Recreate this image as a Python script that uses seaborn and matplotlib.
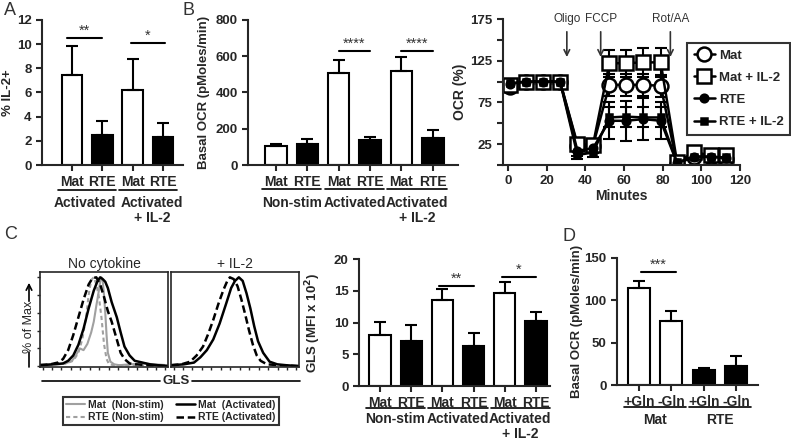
import numpy as np
import pandas as pd
import matplotlib
matplotlib.use("Agg")
import matplotlib.pyplot as plt
import matplotlib.transforms as mtransforms
from matplotlib.lines import Line2D
import seaborn as sns

# ---- A: % IL-2+ ----
a_cells = ["Mat", "RTE", "Mat", "RTE"]
a_groups = ["Activated", "Activated", "Activated\n+ IL-2", "Activated\n+ IL-2"]
a_mean = [7.45, 2.45, 6.2, 2.35]
a_err = [2.4, 1.2, 2.55, 1.15]

# ---- B: basal OCR ----
b_cells = ["Mat", "RTE", "Mat", "RTE", "Mat", "RTE"]
b_groups = ["Non-stim", "Non-stim", "Activated", "Activated", "Activated\n+ IL-2", "Activated\n+ IL-2"]
b_mean = [106, 116, 509, 138, 519, 147]
b_err = [10, 27, 70, 16, 75, 46]

# ---- B: OCR time course ----
minutes = [1, 9.5, 18, 27, 36, 44, 52.5, 61, 70, 79, 87.5, 96, 105, 113]
ocr_mat = [94, 100, 100, 100, 23, 23, 96, 96, 96, 95, 1, 10, 9, 7]
ocr_mat_il2 = [96, 100, 100, 100, 25, 24, 122, 122, 123, 123, 3, 15, 12, 12]
ocr_rte = [97, 100, 100, 100, 17, 20, 53, 53, 55, 53, 2, 10, 10, 8]
ocr_rte_il2 = [98, 100, 100, 100, 12, 15, 57, 58, 57, 57, 3, 10, 10, 9]
err_mat = [0, 0, 0, 0, 4, 4, 13, 13, 13, 13, 1, 3, 3, 2]
err_mat_il2 = [0, 0, 0, 0, 5, 5, 16, 16, 17, 17, 2, 4, 3, 3]
err_rte = [0, 0, 0, 0, 6, 6, 22, 24, 25, 22, 1, 3, 3, 2]
err_rte_il2 = [0, 0, 0, 0, 5, 5, 12, 12, 12, 12, 1, 3, 3, 2]
injections = ["Oligo", "FCCP", "Rot/AA"]
inj_time = [30.5, 48, 84]

# ---- C: GLS histograms (fraction of axis, % of max) ----
hx_mat_ns = [0, 0.05, 0.1, 0.15, 0.2, 0.25, 0.28, 0.31, 0.34, 0.37, 0.40, 0.42, 0.44, 0.46, 0.47, 0.48,
             0.49, 0.50, 0.51, 0.52, 0.53, 0.55, 0.58, 0.62, 0.7, 0.8, 0.9, 1.0]
hy_mat_ns = [2, 1, 2, 2, 3, 6, 12, 20, 18, 25, 38, 50, 68, 85, 95, 100, 96, 80, 60, 35, 15, 5, 2, 1, 2, 3, 2, 1]
hx_rte_ns = [0, 0.1, 0.2, 0.26, 0.3, 0.33, 0.36, 0.38, 0.40, 0.42, 0.44, 0.46, 0.48, 0.50, 0.52, 0.54,
             0.58, 0.7, 0.85, 1.0]
hy_rte_ns = [1, 2, 3, 6, 15, 30, 55, 80, 97, 100, 92, 78, 55, 25, 8, 2, 1, 1, 1, 0]
hx_mat_act = [0, 0.1, 0.18, 0.22, 0.26, 0.3, 0.34, 0.38, 0.42, 0.45, 0.47, 0.49, 0.51, 0.53, 0.56, 0.6,
              0.63, 0.66, 0.7, 0.74, 0.8, 0.86, 0.92, 1.0]
hy_mat_act = [1, 2, 3, 6, 12, 24, 42, 65, 85, 96, 100, 98, 95, 88, 72, 55, 38, 22, 12, 6, 4, 2, 1, 0]
hx_rte_act = [0, 0.08, 0.14, 0.18, 0.22, 0.26, 0.3, 0.34, 0.38, 0.41, 0.44, 0.47, 0.5, 0.53, 0.56, 0.6,
              0.63, 0.66, 0.7, 0.75, 0.85, 1.0]
hy_rte_act = [1, 2, 4, 8, 18, 35, 55, 75, 92, 99, 100, 92, 78, 62, 50, 30, 15, 8, 3, 2, 1, 0]
hx_mat_il2 = [0, 0.1, 0.18, 0.23, 0.28, 0.33, 0.38, 0.43, 0.47, 0.5, 0.53, 0.56, 0.59, 0.62, 0.65, 0.68,
              0.72, 0.77, 0.83, 0.9, 1.0]
hy_mat_il2 = [1, 2, 4, 10, 18, 30, 48, 70, 88, 96, 100, 96, 82, 65, 45, 28, 15, 5, 2, 1, 0]
hx_rte_il2 = [0, 0.08, 0.15, 0.2, 0.25, 0.29, 0.33, 0.37, 0.41, 0.44, 0.46, 0.49, 0.52, 0.55, 0.58, 0.61,
              0.64, 0.67, 0.7, 0.75, 0.85, 1.0]
hy_rte_il2 = [1, 2, 5, 12, 22, 36, 52, 70, 86, 96, 100, 98, 90, 75, 58, 40, 24, 12, 6, 2, 1, 0]

# ---- C: GLS MFI ----
c_cells = ["Mat", "RTE", "Mat", "RTE", "Mat", "RTE"]
c_groups = b_groups
c_mean = [8.0, 7.1, 13.6, 6.3, 14.7, 10.3]
c_err = [2.1, 2.5, 1.6, 2.0, 1.7, 1.4]

# ---- D: basal OCR +/- glutamine ----
d_cells = ["Mat", "Mat", "RTE", "RTE"]
d_labels = ["+Gln", "-Gln", "+Gln", "-Gln"]
d_mean = [114.6, 75.8, 17.7, 22.8]
d_err = [7.9, 11.2, 2.7, 11.4]

sns.set_style("ticks")
plt.rcParams["font.family"] = ["Liberation Sans", "DejaVu Sans"]
plt.rcParams["font.weight"] = "bold"
plt.rcParams["axes.linewidth"] = 1.5
plt.rcParams["xtick.major.width"] = 1.5
plt.rcParams["ytick.major.width"] = 1.5
plt.rcParams["xtick.major.size"] = 4
plt.rcParams["ytick.major.size"] = 4

W, H = 791, 440
fig = plt.figure(figsize=(W / 100, H / 100), dpi=100)


def px_axes(l, t, r, b):
    return fig.add_axes([l / W, 1 - b / H, (r - l) / W, (b - t) / H])


def bold_ticks(ax):
    for lbl in ax.get_xticklabels() + ax.get_yticklabels():
        lbl.set_fontweight("bold")


def bar_panel(ax, cells, groups, mean, err, ticklabels, ylim, yticks, ylabel, label_x):
    names = [f"{g}|{c}|{i}" for i, (g, c) in enumerate(zip(groups, cells))]
    df = pd.DataFrame({"name": names, "cell": cells, "val": mean})
    sns.barplot(data=df, x="name", y="val", hue="cell", palette={"Mat": "white", "RTE": "black"},
                dodge=False, edgecolor="black", linewidth=1.5, width=0.68, errorbar=None,
                legend=False, ax=ax)
    ax.errorbar(range(len(mean)), mean, yerr=[np.zeros(len(err)), err], fmt="none",
                ecolor="black", elinewidth=1.5, capsize=4, capthick=1.5, zorder=1)
    ax.set_xticks(range(len(mean)))
    ax.set_xticklabels(ticklabels, fontsize=10)
    ax.set_ylim(*ylim)
    ax.set_yticks(yticks)
    ax.tick_params(axis="y", labelsize=9.5)
    ax.set_xlabel("")
    ax.set_ylabel(ylabel, fontsize=9.5, fontweight="bold")
    ax.yaxis.set_label_coords(label_x, 0.5)
    bold_ticks(ax)
    sns.despine(ax=ax)


def groups_below(ax, spans, labels, y_line, y_text, dx=None):
    tr = mtransforms.blended_transform_factory(ax.transData, fig.transFigure)
    dx = dx or [0] * len(spans)
    for (i0, i1), lab, d in zip(spans, labels, dx):
        fig.add_artist(Line2D([i0 - 0.45, i1 + 0.45], [1 - y_line / H] * 2, transform=tr,
                              color="black", lw=1.2))
        fig.text((i0 + i1) / 2 + d, 1 - y_text / H, lab, transform=tr, ha="center", va="top",
                 fontsize=10, fontweight="bold", linespacing=1.05)


def sig(ax, i0, i1, y, stars):
    ax.plot([i0, i1], [y, y], color="black", lw=1.5)
    ax.text((i0 + i1) / 2, y, stars, ha="center", va="bottom", fontsize=10.5,
            fontweight="normal", color="#333333")


# panel A
axA = px_axes(42, 20, 183, 165)
bar_panel(axA, a_cells, a_groups, a_mean, a_err, a_cells, (0, 12), range(0, 13, 2), "% IL-2+",
          -0.2)
axA.set_xlim(-0.99, 3.66)
sig(axA, -0.15, 1.0, 10.5, "**")
sig(axA, 1.95, 3.05, 10.1, "*")
groups_below(axA, [(0, 1), (2, 3)], ["Activated", "Activated\n+ IL-2"], 190, 196, dx=[-0.07, 0.14])

# panel B bars
axB = px_axes(248, 20, 458, 165)
bar_panel(axB, b_cells, b_groups, b_mean, b_err, b_cells, (0, 800), range(0, 801, 200),
          "Basal OCR (pMoles/min)", -0.18)
axB.set_xlim(-0.89, 5.8)
sig(axB, 2.0, 3.0, 630, "****")
sig(axB, 4.0, 5.0, 630, "****")
groups_below(axB, [(0, 1), (2, 3), (4, 5)], ["Non-stim", "Activated", "Activated\n+ IL-2"], 189, 196)

# panel B time course
axL = px_axes(503, 19, 740, 165)
series = [("Mat", ocr_mat, err_mat, "o", 10, "white"),
          ("Mat + IL-2", ocr_mat_il2, err_mat_il2, "s", 10, "white"),
          ("RTE", ocr_rte, err_rte, "o", 5.5, "black"),
          ("RTE + IL-2", ocr_rte_il2, err_rte_il2, "s", 4.5, "black")]
for lab, vals, err, mk, ms, fc in series:
    axL.errorbar(minutes, vals, yerr=err, fmt="none", ecolor="black", elinewidth=1.5,
                 capsize=4, capthick=1.5, zorder=1)
    sns.lineplot(x=minutes, y=vals, ax=axL, color="black", lw=1.8, marker=mk, markersize=ms,
                 markerfacecolor=fc, markeredgecolor="black", markeredgewidth=1.8, label=lab,
                 errorbar=None, sort=False)
axL.set_xlim(-2.5, 120)
axL.set_ylim(0, 175)
axL.set_xticks(range(0, 121, 20))
axL.set_yticks(range(0, 176, 25))
axL.set_yticklabels(["" if v % 50 == 0 else str(v) for v in range(0, 176, 25)])
axL.tick_params(labelsize=9.5)
bold_ticks(axL)
axL.set_xlabel("Minutes", fontsize=10, fontweight="bold", labelpad=1)
axL.set_ylabel("OCR (%)", fontsize=10, fontweight="bold")
axL.yaxis.set_label_coords(-0.152, 0.5)
sns.despine(ax=axL)
for name, t in zip(injections, inj_time):
    axL.annotate("", xy=(t, 126), xytext=(t, 163),
                 arrowprops=dict(arrowstyle="->", color="#333333", lw=1.2))
    axL.text(t, 168, name, ha="center", va="bottom", fontsize=8.5, fontweight="normal",
             color="#333333")
h, l = axL.get_legend_handles_labels()
axL.get_legend().remove()
leg = fig.legend(h, l, loc="upper left", bbox_to_anchor=(687 / W, 1 - 43 / H), frameon=True,
                 fancybox=False, edgecolor="black", fontsize=9.5, handlelength=1.6,
                 labelspacing=0.75, borderpad=0.5, handletextpad=0.3, borderaxespad=0)
leg.get_frame().set_linewidth(1.5)
for t in leg.get_texts():
    t.set_fontweight("bold")

# panel C histograms
axH1 = px_axes(40, 272, 168, 367)
axH2 = px_axes(171, 272, 299, 367)
grey = "#a0a0a0"
sns.lineplot(x=hx_mat_ns, y=hy_mat_ns, ax=axH1, color=grey, lw=1.5, sort=False)
sns.lineplot(x=hx_rte_ns, y=hy_rte_ns, ax=axH1, color=grey, lw=1.5,
             linestyle=(0, (2, 1.5)), sort=False)
sns.lineplot(x=hx_mat_act, y=hy_mat_act, ax=axH1, color="black", lw=1.8, sort=False)
sns.lineplot(x=hx_rte_act, y=hy_rte_act, ax=axH1, color="black", lw=1.8,
             linestyle=(0, (3, 1.5)), sort=False)
sns.lineplot(x=hx_mat_il2, y=hy_mat_il2, ax=axH2, color="black", lw=1.8, sort=False)
sns.lineplot(x=hx_rte_il2, y=hy_rte_il2, ax=axH2, color="black", lw=1.8,
             linestyle=(0, (3, 1.5)), sort=False)
for ax, title in [(axH1, "No cytokine"), (axH2, "+ IL-2")]:
    ax.set_xlim(0, 1)
    ax.set_ylim(-1, 106)
    for s in ax.spines.values():
        s.set_linewidth(1.2)
    ax.set_xticks(np.linspace(0.02, 0.98, 14))
    ax.set_xticklabels([])
    ax.tick_params(axis="x", length=2.5, width=1)
    ax.set_title(title, fontsize=10, fontweight="normal", pad=3)
axH1.set_yticks(range(0, 101, 20))
axH1.set_yticklabels([])
axH1.tick_params(axis="y", length=2.5, width=1)
axH2.set_yticks([])
fig.text(29 / W, 1 - 327 / H, "% of Max", rotation=90, ha="center", va="center",
         fontsize=9, fontweight="normal")
fig.add_artist(Line2D([29 / W] * 2, [1 - 367 / H, 1 - 352 / H], color="black", lw=1.2))
fig.add_artist(plt.Annotation("", xy=(29 / W, 1 - 280 / H), xytext=(29 / W, 1 - 304 / H),
                              xycoords="figure fraction",
                              arrowprops=dict(arrowstyle="->", color="black", lw=1.2)))
fig.text(176 / W, 1 - 381 / H, "GLS", ha="center", va="center", fontsize=9.5, fontweight="bold")
fig.add_artist(Line2D([42 / W, 160 / W], [1 - 381 / H] * 2, color="black", lw=1.2))
fig.add_artist(Line2D([192 / W, 300 / W], [1 - 381 / H] * 2, color="black", lw=1.2))
leg_handles = [Line2D([], [], color=grey, lw=1.5), Line2D([], [], color=grey, lw=1.5, ls=(0, (2, 1.5))),
               Line2D([], [], color="black", lw=1.8), Line2D([], [], color="black", lw=1.8, ls=(0, (3, 1.5)))]
leg_labels = ["Mat  (Non-stim)", "RTE (Non-stim)", "Mat  (Activated)", "RTE (Activated)"]
legC = fig.legend(leg_handles, leg_labels, ncol=2, loc="upper left",
                  bbox_to_anchor=(63 / W, 1 - 397 / H), frameon=True, fancybox=False,
                  edgecolor="black", fontsize=7.5, handlelength=1.8, columnspacing=1.2,
                  labelspacing=0.2, borderpad=0.3, handletextpad=0.3, borderaxespad=0)
legC.get_frame().set_linewidth(1.5)
for t in legC.get_texts():
    t.set_fontweight("bold")

# panel C bars
axC = px_axes(359, 259, 550, 386)
bar_panel(axC, c_cells, c_groups, c_mean, c_err, c_cells, (0, 20), range(0, 21, 5),
          "GLS (MFI x 10$^2$)", -0.19)
axC.set_xlim(-0.67, 5.45)
sig(axC, 1.9, 3.0, 15.8, "**")
sig(axC, 3.9, 5.0, 17.2, "*")
groups_below(axC, [(0, 1), (2, 3), (4, 5)], ["Non-stim", "Activated", "Activated\n+ IL-2"], 408, 412)

# panel D
axD = px_axes(617, 258, 758, 385)
bar_panel(axD, d_cells, d_cells, d_mean, d_err, d_labels, (0, 150), range(0, 151, 50),
          "Basal OCR (pMoles/min)", -0.24)
axD.set_xlim(-0.68, 3.68)
sig(axD, 0.05, 1.15, 134, "***")
groups_below(axD, [(0, 1), (2, 3)], ["Mat", "RTE"], 407, 413)

# panel letters
for x, y, letter in [(4, 2, "A"), (182, 2, "B"), (4, 226, "C"), (562, 228, "D")]:
    fig.text(x / W, 1 - y / H, letter, ha="left", va="top", fontsize=13, fontweight="normal",
             color="#333333")

fig.savefig("out.png", dpi=100)
